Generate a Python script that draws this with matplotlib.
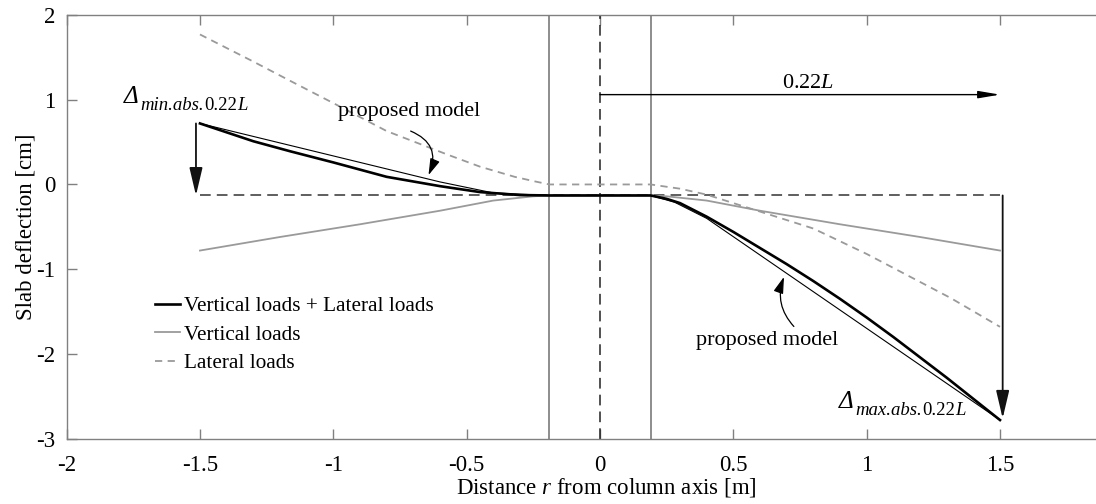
import matplotlib
matplotlib.use("Agg")
import matplotlib.pyplot as plt

plt.rcParams['font.family'] = ['Liberation Serif', 'DejaVu Serif']
plt.rcParams['mathtext.fontset'] = 'custom'
plt.rcParams['mathtext.rm'] = 'Liberation Serif'
plt.rcParams['mathtext.it'] = 'Liberation Serif:italic'
plt.rcParams['font.size'] = 16.5

# combined response (vertical + lateral)
x_comb = [-1.5, -1.3, -1.16, -1.0, -0.8, -0.6, -0.45, -0.3, -0.19, 0.0,
          0.19, 0.25, 0.3, 0.4, 0.5, 0.6, 0.7, 0.8, 0.9, 1.0, 1.1, 1.2, 1.3, 1.4, 1.5]
y_comb = [0.72, 0.51, 0.39, 0.26, 0.09, -0.02, -0.09, -0.125, -0.13, -0.13,
          -0.13, -0.17, -0.22, -0.38, -0.56, -0.75, -0.94, -1.14, -1.35, -1.57,
          -1.80, -2.04, -2.28, -2.53, -2.78]

# proposed model (thin straight segments)
x_prop = [-1.5, -0.6, -0.4, -0.19, 0.19, 0.28, 0.4, 1.5]
y_prop = [0.72, 0.03, -0.10, -0.13, -0.13, -0.21, -0.40, -2.78]

# vertical loads only
x_vert = [-1.5, -1.2, -0.9, -0.6, -0.4, -0.25, -0.19, 0.19, 0.25, 0.4, 0.6, 0.9, 1.2, 1.5]
y_vert = [-0.78, -0.62, -0.47, -0.31, -0.19, -0.14, -0.13, -0.13, -0.14, -0.19, -0.31, -0.47, -0.62, -0.78]

# lateral loads only
x_lat = [-1.5, -1.3, -1.16, -1.0, -0.8, -0.57, -0.45, -0.32, -0.25, -0.19, 0.0,
         0.19, 0.3, 0.4, 0.5, 0.6, 0.8, 1.0, 1.2, 1.315, 1.5]
y_lat = [1.77, 1.45, 1.22, 0.96, 0.63, 0.35, 0.21, 0.09, 0.04, 0.0, 0.0,
         0.0, -0.05, -0.12, -0.22, -0.32, -0.52, -0.82, -1.15, -1.34, -1.68]

col_face = 0.19
y_ref = -0.13

fig = plt.figure(figsize=(10.96, 5.04), dpi=100)
ax = fig.add_axes([0.0608, 0.1296, 0.9392, 0.8407])

ax.plot(x_comb, y_comb, color='black', lw=1.9, label='Vertical loads + Lateral loads', zorder=4)
ax.plot(x_vert, y_vert, color='#9a9a9a', lw=1.3, label='Vertical loads', zorder=3)
ax.plot(x_lat, y_lat, color='#9a9a9a', lw=1.3, ls=(0, (4, 3)), label='Lateral loads', zorder=3)
ax.plot(x_prop, y_prop, color='black', lw=0.8, zorder=4)

# column faces and axis
for xc in (-col_face, col_face):
    ax.axvline(xc, color='#7a7a7a', lw=1.2, zorder=2)
ax.axvline(0, color='#222222', lw=1.1, ls=(0, (7, 4)), zorder=2)
ax.plot([-1.5, 1.5], [y_ref, y_ref], color='#333333', lw=1.1, ls=(0, (7, 4)), zorder=2)

big_head = dict(arrowstyle='-|>,head_length=1.7,head_width=0.4', color='#111111',
                lw=1.3, shrinkA=0, shrinkB=0, mutation_scale=10)
ax.annotate('', xy=(-1.515, y_ref), xytext=(-1.515, y_comb[0]), arrowprops=big_head)
ax.annotate('', xy=(1.51, -2.76), xytext=(1.51, y_ref), arrowprops=big_head)
ax.annotate('', xy=(1.5, 1.06), xytext=(0, 1.06),
            arrowprops=dict(arrowstyle='-|>,head_length=1.3,head_width=0.22', color='black',
                            lw=1.0, shrinkA=0, shrinkB=0, mutation_scale=10))
ax.text(0.78, 1.14, r'0.22$L$', ha='center', va='baseline', fontsize=16)

# delta labels: italic capital delta, subscript built from pieces so the dots stay tight
for (xd, yd), kind in (((-1.786, 0.96), 'min.abs.'), ((0.896, -2.64), 'max.abs.')):
    ax.text(xd, yd, 'Δ', ha='left', va='baseline', fontsize=18, fontstyle='italic')
    t1 = ax.annotate(kind, xy=(xd, yd), xytext=(12, -5), textcoords='offset points',
                     ha='left', va='baseline', fontsize=13.5, fontstyle='italic')
    t2 = ax.annotate('0.22', xy=(1, 0), xycoords=t1, ha='left', va='bottom', fontsize=13.5)
    ax.annotate('L', xy=(1, 0), xycoords=t2, ha='left', va='bottom', fontsize=13.5,
                fontstyle='italic')

small_head = dict(arrowstyle='-|>,head_length=1.0,head_width=0.3', color='black', lw=0.9,
                  shrinkA=0, shrinkB=0, mutation_scale=10)
ax.text(-0.714, 0.86, 'proposed model', ha='center', va='center', fontsize=16)
ax.annotate('', xy=(-0.643, 0.11), xytext=(-0.71, 0.63),
            arrowprops=dict(small_head, connectionstyle='arc3,rad=-0.5'))
ax.text(0.627, -1.845, 'proposed model', ha='center', va='center', fontsize=16)
ax.annotate('', xy=(0.69, -1.09), xytext=(0.727, -1.676),
            arrowprops=dict(small_head, connectionstyle='arc3,rad=-0.3'))

ax.set_xlim(-2, 1.86)
ax.set_ylim(-3, 2)
ax.set_xticks([-2, -1.5, -1, -0.5, 0, 0.5, 1, 1.5])
ax.set_xticklabels(['-2', '-1.5', '-1', '-0.5', '0', '0.5', '1', '1.5'])
ax.set_yticks([-3, -2, -1, 0, 1, 2])
ax.set_yticklabels(['-3', '-2', '-1', '0', '1', '2'])
ax.tick_params(direction='in', length=7, width=1.0, color='#808080', top=True)
ax.tick_params(axis='x', pad=12)
ax.tick_params(axis='y', pad=8)
for side in ('left', 'bottom', 'top'):
    ax.spines[side].set_color('#808080')
    ax.spines[side].set_linewidth(1.0)
ax.spines['right'].set_visible(False)

ax.set_xlabel(r'Distance $r$ from column axis [m]', labelpad=0)
ax.xaxis.label.set_x(0.524)
ax.set_ylabel('Slab deflection [cm]', labelpad=0)

ax.legend(loc='center left', bbox_to_anchor=(0.0858, 0.245), frameon=False,
          handlelength=1.2, handletextpad=0.15, borderaxespad=0, borderpad=0,
          labelspacing=0.4, fontsize=15.3)

fig.savefig('out.png', dpi=100)
